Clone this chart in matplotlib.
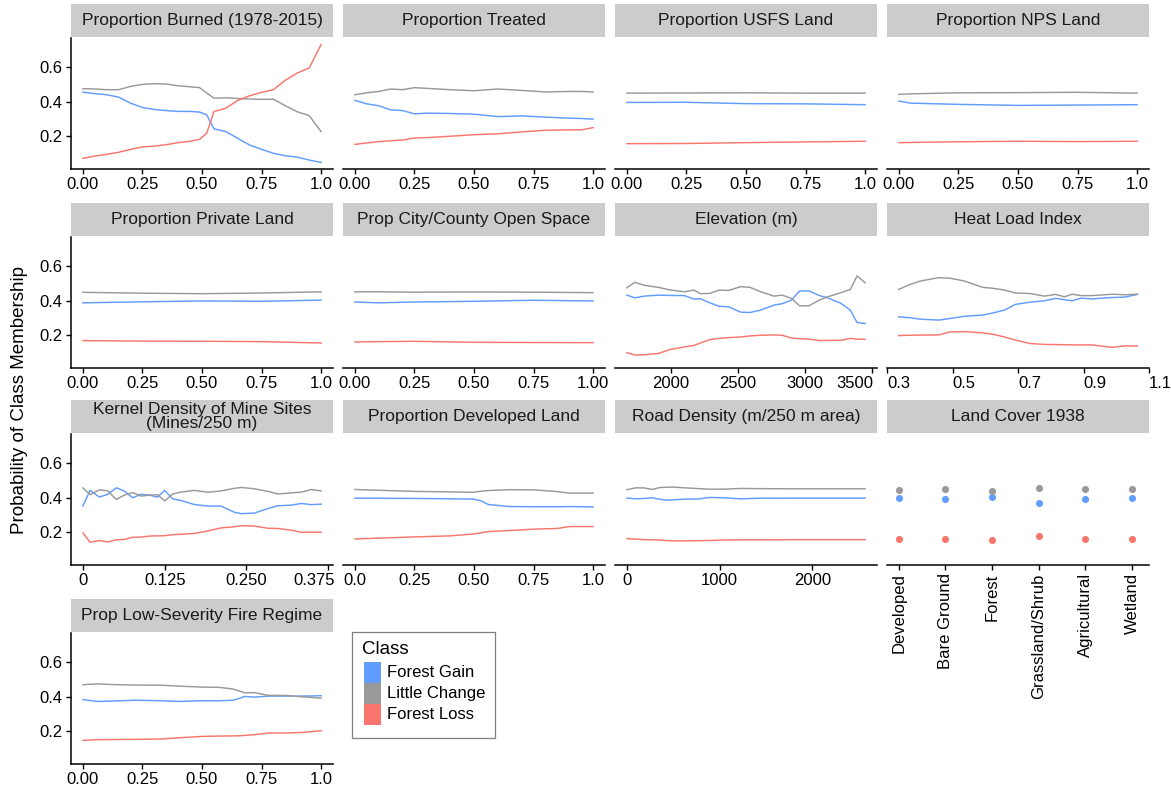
import matplotlib
matplotlib.use("Agg")
import matplotlib.pyplot as plt
from matplotlib.patches import Rectangle
from matplotlib.transforms import ScaledTranslation

plt.rcParams["font.family"] = ["Liberation Sans", "DejaVu Sans"]

CLASSES = ["Forest Gain", "Little Change", "Forest Loss"]
COLORS = ["#619CFF", "#999999", "#F8766D"]

# ---- data ----
burned_x = [0, .05, .1, .15, .2, .25, .3, .35, .4, .45, .49, .52, .55, .6, .65, .7, .75, .8, .85, .9, .95, 1.0]
burned_gain = [.456, .447, .441, .427, .392, .367, .355, .349, .344, .344, .340, .324, .243, .227, .188, .149, .124, .101, .087, .079, .062, .048]
burned_change = [.476, .474, .470, .470, .489, .501, .505, .503, .493, .487, .482, .451, .421, .423, .419, .416, .414, .415, .377, .342, .320, .227]
burned_loss = [.072, .085, .095, .107, .124, .138, .143, .151, .163, .171, .182, .218, .343, .363, .408, .435, .455, .470, .525, .567, .596, .732]

treated_x = [0, .05, .1, .15, .2, .25, .3, .4, .5, .6, .7, .8, .9, .95, 1.0]
treated_gain = [.408, .388, .377, .353, .349, .330, .334, .332, .328, .314, .318, .311, .305, .303, .299]
treated_change = [.441, .452, .460, .474, .470, .482, .478, .470, .464, .474, .466, .457, .460, .460, .457]
treated_loss = [.153, .161, .169, .174, .178, .190, .192, .200, .209, .214, .225, .235, .237, .237, .250]

usfs_x = [0, .25, .5, .75, 1.0]
usfs_gain = [.396, .397, .389, .388, .383]
usfs_change = [.450, .451, .452, .450, .450]
usfs_loss = [.157, .158, .163, .167, .171]

nps_x = [0, .05, .25, .5, .75, 1.0]
nps_gain = [.404, .392, .385, .379, .381, .383]
nps_change = [.443, .446, .452, .453, .455, .450]
nps_loss = [.163, .164, .168, .171, .169, .171]

private_x = [0, .25, .5, .75, 1.0]
private_gain = [.388, .394, .399, .397, .404]
private_change = [.449, .444, .441, .445, .452]
private_loss = [.169, .166, .165, .163, .155]

openspace_x = [0, .1, .25, .5, .75, 1.0]
openspace_gain = [.393, .388, .393, .397, .403, .399]
openspace_change = [.452, .452, .450, .451, .450, .447]
openspace_loss = [.161, .163, .165, .159, .158, .157]

elev_x = [1670, 1730, 1800, 1910, 1990, 2100, 2170, 2220, 2290, 2360, 2430, 2520, 2590,
          2670, 2770, 2830, 2900, 2960, 3030, 3110, 3170, 3270, 3340, 3390, 3450]
elev_gain = [.433, .417, .427, .433, .431, .430, .410, .412, .388, .368, .365, .334, .332,
             .346, .375, .383, .404, .457, .457, .430, .417, .385, .345, .274, .268]
elev_change = [.476, .507, .490, .477, .463, .452, .462, .441, .443, .462, .460, .482, .478,
               .452, .427, .433, .414, .371, .371, .405, .423, .447, .466, .544, .505]
elev_loss = [.099, .085, .087, .095, .117, .132, .141, .155, .175, .182, .186, .190, .196,
             .200, .202, .200, .184, .180, .178, .169, .170, .171, .182, .177, .177]

heat_x = [.336, .369, .403, .458, .492, .536, .592, .625, .659, .692, .737, .781, .815,
          .842, .865, .893, .926, .987, 1.026, 1.065]
heat_gain = [.307, .302, .293, .288, .297, .310, .317, .330, .346, .379, .392, .400, .414,
             .406, .400, .415, .411, .419, .421, .437]
heat_change = [.466, .494, .515, .534, .531, .515, .478, .472, .462, .445, .442, .427, .437,
               .423, .438, .430, .430, .438, .435, .438]
heat_loss = [.198, .200, .201, .202, .219, .221, .214, .205, .190, .172, .152, .147, .146,
             .145, .144, .144, .144, .130, .138, .138]

mine_x = [0, .011, .025, .038, .051, .063, .076, .089, .102, .114, .125, .137, .150,
          .170, .191, .211, .232, .242, .262, .283, .298, .318, .334, .349, .364]
mine_gain = [.352, .443, .404, .420, .458, .440, .400, .420, .415, .404, .443, .394, .384,
             .361, .352, .352, .315, .308, .311, .338, .354, .357, .367, .360, .363]
mine_change = [.457, .418, .446, .440, .390, .415, .430, .410, .415, .418, .382, .422, .433,
               .443, .432, .440, .455, .460, .452, .437, .422, .428, .433, .448, .440]
mine_loss = [.196, .142, .152, .144, .156, .158, .171, .172, .178, .179, .180, .186, .188,
             .193, .208, .225, .232, .238, .236, .223, .222, .212, .200, .200, .200]

developed_x = [0, .25, .4, .5, .53, .56, .65, .75, .85, .9, 1.0]
developed_gain = [.398, .396, .394, .392, .382, .361, .349, .348, .348, .349, .347]
developed_change = [.448, .437, .434, .432, .438, .442, .447, .446, .436, .427, .427]
developed_loss = [.161, .173, .179, .190, .197, .204, .210, .218, .222, .233, .233]

road_x = [0, 100, 190, 270, 350, 420, 500, 620, 770, 890, 1040, 1230, 1420, 1810, 2570]
road_gain = [.398, .394, .396, .400, .392, .386, .388, .392, .393, .402, .400, .394, .397, .398, .398]
road_change = [.447, .458, .457, .448, .459, .461, .462, .458, .453, .450, .450, .454, .453, .452, .452]
road_loss = [.163, .160, .157, .156, .155, .152, .150, .150, .151, .152, .155, .156, .156, .157, .157]

landcover_cats = ["Developed", "Bare Ground", "Forest", "Grassland/Shrub", "Agricultural", "Wetland"]
landcover_gain = [.398, .392, .406, .367, .392, .396]
landcover_change = [.448, .452, .439, .457, .452, .450]
landcover_loss = [.159, .159, .157, .180, .159, .159]

lowsev_x = [0, .06, .12, .22, .33, .4, .5, .57, .63, .66, .68, .72, .78, .85, .92, 1.0]
lowsev_gain = [.384, .373, .375, .380, .377, .373, .377, .377, .380, .392, .402, .398, .404, .404, .404, .406]
lowsev_change = [.470, .475, .471, .468, .467, .462, .456, .455, .445, .432, .423, .424, .408, .408, .400, .392]
lowsev_loss = [.147, .151, .152, .153, .155, .162, .170, .172, .173, .174, .176, .180, .190, .190, .193, .203]

prop_ticks = [0, .25, .5, .75, 1.0]
prop_labels = ["0.00", "0.25", "0.50", "0.75", "1.0"]

# (title, x, series, row, col, ticks, labels)
panels = [
    ("Proportion Burned (1978-2015)", burned_x, (burned_gain, burned_change, burned_loss), 0, 0, prop_ticks, prop_labels),
    ("Proportion Treated", treated_x, (treated_gain, treated_change, treated_loss), 0, 1, prop_ticks, prop_labels),
    ("Proportion USFS Land", usfs_x, (usfs_gain, usfs_change, usfs_loss), 0, 2, prop_ticks, prop_labels),
    ("Proportion NPS Land", nps_x, (nps_gain, nps_change, nps_loss), 0, 3, prop_ticks, prop_labels),
    ("Proportion Private Land", private_x, (private_gain, private_change, private_loss), 1, 0, prop_ticks, prop_labels),
    ("Prop City/County Open Space", openspace_x, (openspace_gain, openspace_change, openspace_loss), 1, 1,
     prop_ticks, ["0.00", "0.25", "0.50", "0.75", "1.00"]),
    ("Elevation (m)", elev_x, (elev_gain, elev_change, elev_loss), 1, 2,
     [2000, 2500, 3000, 3500], ["2000", "2500", "3000", "3500"]),
    ("Heat Load Index", heat_x, (heat_gain, heat_change, heat_loss), 1, 3,
     [.3, .5, .7, .9, 1.1], ["0.3", "0.5", "0.7", "0.9", "1.1"]),
    ("Kernel Density of Mine Sites\n(Mines/250 m)", mine_x, (mine_gain, mine_change, mine_loss), 2, 0,
     [0, .125, .25, .375], ["0", "0.125", "0.250", "0.375"]),
    ("Proportion Developed Land", developed_x, (developed_gain, developed_change, developed_loss), 2, 1,
     prop_ticks, ["0.0", "0.25", "0.50", "0.75", "1.0"]),
    ("Road Density (m/250 m area)", road_x, (road_gain, road_change, road_loss), 2, 2,
     [0, 1000, 2000], ["0", "1000", "2000"]),
    ("Land Cover 1938", None, (landcover_gain, landcover_change, landcover_loss), 2, 3, None, None),
    ("Prop Low-Severity Fire Regime", lowsev_x, (lowsev_gain, lowsev_change, lowsev_loss), 3, 0, prop_ticks, prop_labels),
]

# last tick label nudged left in these panels, as in the original (px)
label_nudge = {"Elevation (m)": -17, "Kernel Density of Mine Sites\n(Mines/250 m)": -14}

W, H = 1171, 792
COL_LEFT = [71, 343, 615, 887]
ROW_TOP = [38, 237, 434, 633]
PW, PH, SH = 262, 131, 33

fig = plt.figure(figsize=(W / 100, H / 100), dpi=100)


def fig_rect(left, top, w, h):
    return [left / W, 1 - (top + h) / H, w / W, h / H]


for title, x, series, r, c, ticks, labels in panels:
    left, top = COL_LEFT[c], ROW_TOP[r]
    ax = fig.add_axes(fig_rect(left, top, PW, PH))
    if x is None:
        pos = list(range(1, len(landcover_cats) + 1))
        for ys, col in zip(series, COLORS):
            ax.scatter(pos, ys, s=26, color=col, zorder=3, linewidths=0)
        ax.set_xlim(0.75, 6.36)
        ax.set_xticks(pos)
        ax.set_xticklabels(landcover_cats, rotation=90, va="top", ha="center")
    else:
        for ys, col in zip(series, COLORS):
            ax.plot(x, ys, color=col, lw=1.05)
        if title == "Heat Load Index":
            ax.set_xlim(0.3, 1.1)
        else:
            lo, hi = min(x), max(x)
            pad = 0.05 * (hi - lo)
            ax.set_xlim(lo - pad, hi + pad)
        ax.set_xticks(ticks)
        ax.set_xticklabels(labels)
        if title == "Heat Load Index":
            for t in ax.get_xticklabels():
                t.set_ha("left")
    ax.set_ylim(0.01, 0.77)
    ax.set_yticks([.2, .4, .6])
    ax.set_yticklabels(["0.2", "0.4", "0.6"])
    for s in ("top", "right"):
        ax.spines[s].set_visible(False)
    ax.spines["bottom"].set_linewidth(1.1)
    ax.spines["left"].set_linewidth(1.1)
    ax.tick_params(length=3.5, width=1.0, colors="black", labelsize=12, pad=2.5)
    if c != 0:
        ax.spines["left"].set_visible(False)
        ax.tick_params(left=False, labelleft=False)
    # tick_params resets label transforms, so nudge afterwards
    if title in label_nudge:
        lab = ax.xaxis.get_major_ticks()[-1].label1
        lab.set_transform(lab.get_transform()
                          + ScaledTranslation(label_nudge[title] / 100, 0, fig.dpi_scale_trans))

    # facet strip
    sax = fig.add_axes(fig_rect(left, top - SH - 1, PW, SH))
    sax.set_facecolor("#CCCCCC")
    sax.set_xticks([])
    sax.set_yticks([])
    for s in sax.spines.values():
        s.set_visible(False)
    sax.text(0.5, 0.5, title, ha="center", va="center", fontsize=12.5,
             color="#1A1A1A", linespacing=0.85, transform=sax.transAxes)

fig.text(20 / W, 1 - 400 / H, "Probability of Class Membership", rotation=90,
         ha="center", va="center", fontsize=13.5, color="black")

# legend
fig.patches.append(Rectangle((352 / W, 1 - 738 / H), 143 / W, 106 / H, transform=fig.transFigure,
                             facecolor="white", edgecolor="#7F7F7F", lw=0.9))
fig.text(362 / W, 1 - 650 / H, "Class", ha="left", va="center", fontsize=13.5)
for i, (name, col) in enumerate(zip(CLASSES, COLORS)):
    ky = 662 + i * 21
    fig.patches.append(Rectangle((364 / W, 1 - (ky + 21) / H), 17 / W, 21 / H,
                                 transform=fig.transFigure, facecolor=col, edgecolor="none"))
    fig.text(387 / W, 1 - (ky + 10.5) / H, name, ha="left", va="center", fontsize=12)

fig.savefig("out.png", dpi=100)
